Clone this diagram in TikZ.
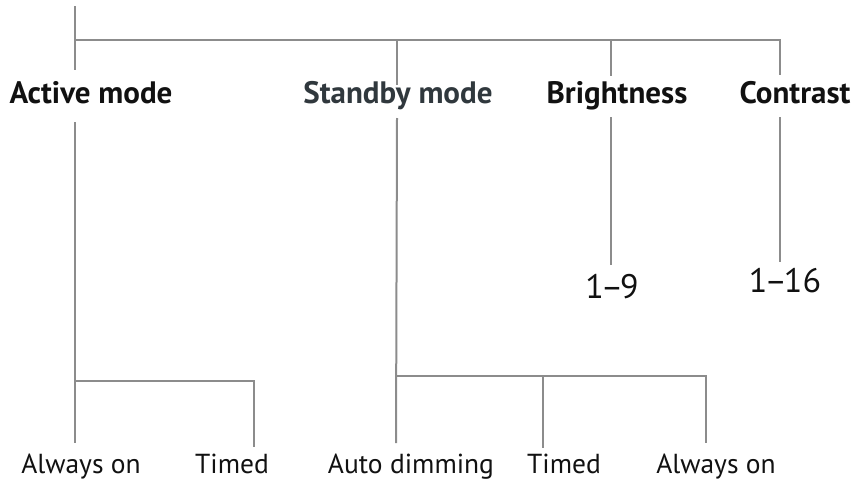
\documentclass[tikz,border=0pt]{standalone}
\usepackage{fontspec}
\setmainfont{PT Sans}
\definecolor{linegray}{HTML}{8C8C8C}
\definecolor{txtblack}{HTML}{111111}
\definecolor{standbycol}{HTML}{30383D}
\begin{document}
\begin{tikzpicture}[x=1pt,y=-1pt,
  conn/.style={draw=linegray,line width=2pt},
  head/.style={font=\fontsize{31}{36}\selectfont\bfseries,text=txtblack,inner sep=0pt},
  leaf/.style={font=\fontsize{27.5}{32}\selectfont,text=txtblack,inner sep=0pt},
  num/.style={font=\fontsize{34}{40}\selectfont,text=txtblack,inner sep=0pt}]
\useasboundingbox (0,0) rectangle (856,479);
% headers
\node[head,anchor=base] (act) at (91,103) {Active mode};
\node[head,anchor=base,text=standbycol] (stb) at (398,103) {Standby mode};
\node[head,anchor=base] (bri) at (617,103) {Brightness};
\node[head,anchor=base] (con) at (795,103) {Contrast};
% leaves
\node[leaf,anchor=base] (a1) at (81,473) {Always on};
\node[leaf,anchor=base] (a2) at (232,473) {Timed};
\node[leaf,anchor=base] (s1) at (411,473) {Auto dimming};
\node[leaf,anchor=base] (s2) at (564,473) {Timed};
\node[leaf,anchor=base] (s3) at (716,473) {Always on};
\node[num,anchor=base] (b1) at (612,298) {1\kern-3pt–\kern-3pt9};
\node[num,anchor=base] (c1) at (785,292) {1\kern-3pt–\kern-3pt16};
% coordinates
\coordinate (root) at (75,6);
\coordinate (jl) at (75,40);
\coordinate (jr) at (780,40);
\coordinate (jst) at (397,40);
\coordinate (jbr) at (611,40);
\coordinate (actT) at (75,70);
\coordinate (stbT) at (397,85);
\coordinate (briT) at (611,76);
\coordinate (conT) at (780,75);
\coordinate (actB) at (75,122);
\coordinate (stbB) at (397,118);
\coordinate (briB) at (611,117);
\coordinate (conB) at (780,117);
\coordinate (briE) at (611,265);
\coordinate (conE) at (780,262);
\coordinate (aj) at (75,381);
\coordinate (ajr) at (254,381);
\coordinate (a1T) at (75,443);
\coordinate (a2T) at (254,447);
\coordinate (sj) at (397,376);
\coordinate (s2j) at (543,376);
\coordinate (sjr) at (706,376);
\coordinate (s1T) at (396,443);
\coordinate (s2T) at (543,448);
\coordinate (s3T) at (706,443);
% connectors
\draw[conn] (root) -- (actT);
\draw[conn] (jl) -- (jr) -- (conT);
\draw[conn] (jst) -- (stbT);
\draw[conn] (jbr) -- (briT);
\draw[conn] (actB) -- (a1T);
\draw[conn] (aj) -- (ajr) -- (a2T);
\draw[conn] (stbB) -- (s1T);
\draw[conn] (sj) -- (sjr) -- (s3T);
\draw[conn] (s2j) -- (s2T);
\draw[conn] (briB) -- (briE);
\draw[conn] (conB) -- (conE);
\end{tikzpicture}
\end{document}
